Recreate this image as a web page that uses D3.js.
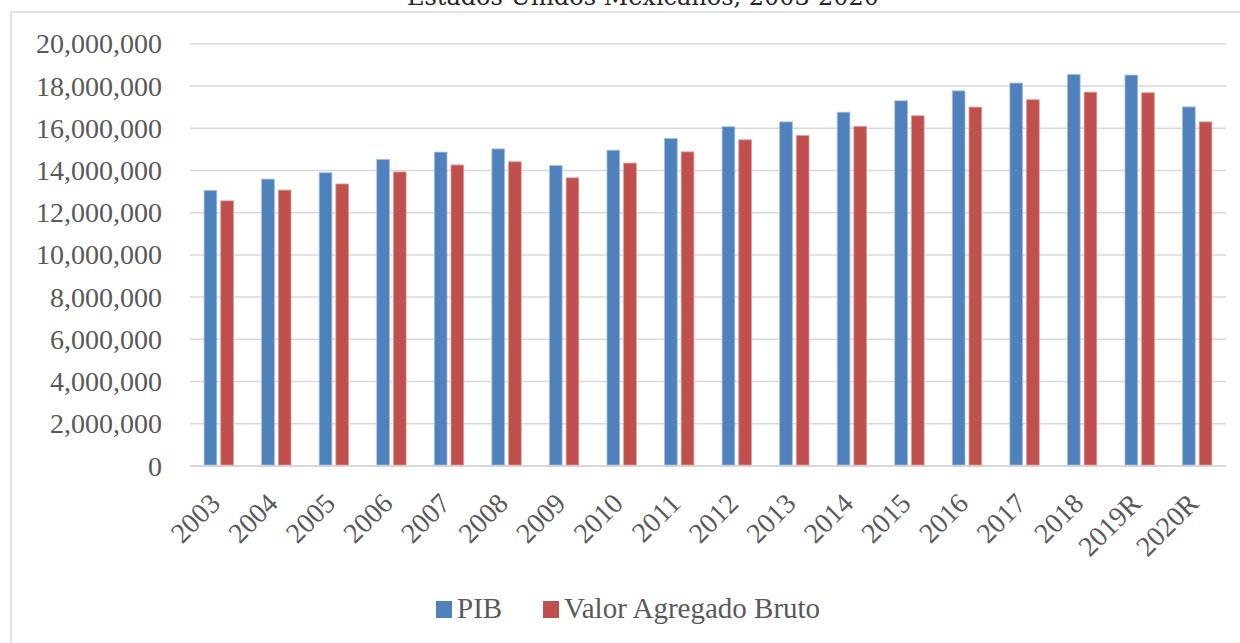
<!DOCTYPE html>
<html>
<head>
<meta charset="utf-8">
<script src="https://cdn.jsdelivr.net/npm/d3@7"></script>
<style>
  body { margin: 0; background: #fff; }
  svg { display: block; }
  text { fill: #595959; font-family: "Liberation Serif", "Times New Roman", serif; }
</style>
</head>
<body>
<svg id="chart" width="1240" height="643"></svg>
<script>
// years and series (pesos)
const years = ["2003", "2004", "2005", "2006", "2007", "2008", "2009", "2010", "2011",
               "2012", "2013", "2014", "2015", "2016", "2017", "2018", "2019R", "2020R"];
const pib = [13050000, 13590000, 13890000, 14520000, 14870000, 15020000, 14230000, 14960000, 15510000,
             16070000, 16300000, 16760000, 17300000, 17770000, 18140000, 18550000, 18520000, 17010000];
const vab = [12560000, 13070000, 13360000, 13930000, 14260000, 14410000, 13650000, 14350000, 14880000,
             15450000, 15660000, 16080000, 16590000, 17000000, 17350000, 17710000, 17680000, 16300000];
const seriesNames = ["PIB", "Valor Agregado Bruto"];
const colors = ["#4f81bd", "#c0504d"];
const edgeColors = ["#a4bddc", "#dc9c9a"];
const yTicks = [0, 2000000, 4000000, 6000000, 8000000, 10000000, 12000000, 14000000, 16000000, 18000000, 20000000];

const svg = d3.select("#chart");
const plotLeft = 190, plotRight = 1226, plotTop = 43.8, plotBottom = 466;

// chart frame (cut off at top, right and bottom like the original)
svg.append("rect")
    .attr("x", 11).attr("y", 12)
    .attr("width", 1260).attr("height", 660)
    .attr("fill", "none").attr("stroke", "#d9d9d9").attr("stroke-width", 1.5);

svg.append("text")
    .attr("x", 643).attr("y", 5)
    .attr("text-anchor", "middle")
    .style("font-family", "'DejaVu Serif', serif")
    .style("font-size", "24px")
    .style("fill", "#262626")
    .text("Estados Unidos Mexicanos, 2003-2020");

const y = d3.scaleLinear().domain([0, 20000000]).range([plotBottom, plotTop]);
const x0 = d3.scaleBand().domain(years).range([plotLeft, plotRight]).paddingInner(0.49).paddingOuter(0.245);
const x1 = d3.scaleBand().domain(seriesNames).range([0, x0.bandwidth()]).paddingInner(0.24);

// gridlines
svg.append("g").selectAll("line")
    .data(yTicks)
    .join("line")
    .attr("x1", plotLeft).attr("x2", plotRight)
    .attr("y1", d => y(d)).attr("y2", d => y(d))
    .attr("stroke", "#d9d9d9")
    .attr("stroke-width", d => d === 0 ? 2 : 1.5);

// y axis labels
const fmt = d3.format(",");
svg.append("g").selectAll("text")
    .data(yTicks)
    .join("text")
    .attr("x", 162)
    .attr("y", d => y(d) + 9.5)
    .attr("text-anchor", "end")
    .style("font-size", "28px")
    .text(d => fmt(d));

// bars
const data = years.map((yr, i) => ({ year: yr, values: [pib[i], vab[i]] }));
const groups = svg.append("g").selectAll("g")
    .data(data)
    .join("g")
    .attr("transform", d => `translate(${x0(d.year)},0)`);

groups.selectAll("rect")
    .data(d => d.values.map((v, j) => ({ name: seriesNames[j], value: v, j: j })))
    .join("rect")
    .attr("x", d => x1(d.name))
    .attr("y", d => y(d.value))
    .attr("width", x1.bandwidth())
    .attr("height", d => y(0) - y(d.value) - 1)
    .attr("fill", d => colors[d.j])
    .attr("stroke", d => edgeColors[d.j])
    .attr("stroke-width", 0.8);

// x axis labels, rotated
svg.append("g").selectAll("text")
    .data(years)
    .join("text")
    .attr("transform", d => `translate(${x0(d) + x0.bandwidth() / 2 + 3},505) rotate(-45)`)
    .attr("text-anchor", "end")
    .style("font-size", "28px")
    .text(d => d);

// legend
const legend = svg.append("g");
const legendX = [436, 543];
seriesNames.forEach((name, i) => {
    legend.append("rect")
        .attr("x", legendX[i]).attr("y", 601)
        .attr("width", 16).attr("height", 17)
        .attr("fill", colors[i]);
    legend.append("text")
        .attr("x", legendX[i] + 21).attr("y", 618)
        .style("font-size", "29px")
        .text(name);
});
</script>
</body>
</html>
